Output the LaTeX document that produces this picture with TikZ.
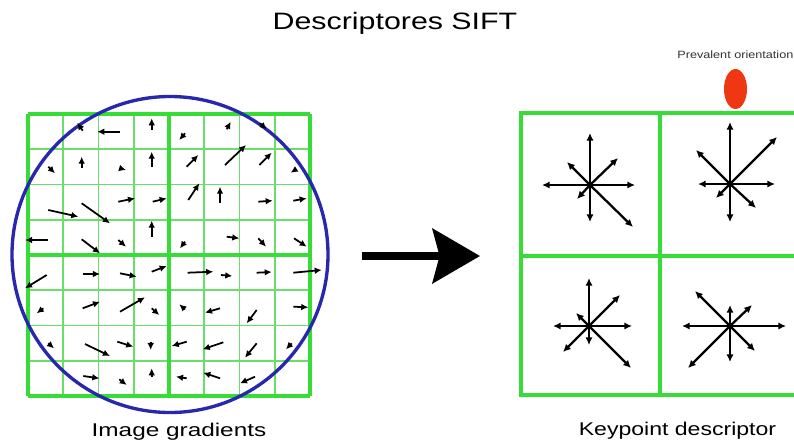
\documentclass[tikz,border=0pt]{standalone}
\usepackage{fontspec}
\setmainfont{Liberation Sans}
\usetikzlibrary{arrows.meta}
\definecolor{gridgreen}{RGB}{55,220,55}
\definecolor{thingreen}{RGB}{105,222,105}
\definecolor{circblue}{RGB}{40,40,175}
\definecolor{orired}{RGB}{240,55,20}
\tikzset{
  grad/.style={line width=1pt,-{Latex[length=4pt,width=3.8pt]}},
  binarrow/.style={line width=1.3pt,-{Latex[length=4.4pt,width=4.2pt]}},
  lbl/.style={inner sep=0pt}
}
\begin{document}
\begin{tikzpicture}[x=0.02cm,y=-0.02cm]
\clip (0,0) rectangle (794,447);
\fill[white] (0,0) rectangle (794,447);

% title
\node[lbl] (title) at (395,23) {\fontsize{13.5}{16}\selectfont\scalebox{1.28}[1]{Descriptores SIFT}};

% left grid
\foreach \i in {0,...,8} {
  \draw[thingreen,line width=1.1pt] (28+35.25*\i,114) -- (28+35.25*\i,396);
  \draw[thingreen,line width=1.1pt] (28,114+35.25*\i) -- (310,114+35.25*\i);
}
\foreach \i in {0,4,8} {
  \draw[gridgreen,line width=2.2pt] (28+35.25*\i,114) -- (28+35.25*\i,396);
  \draw[gridgreen,line width=2.2pt] (28,114+35.25*\i) -- (310,114+35.25*\i);
}
\draw[circblue,line width=1.9pt] (170,254.5) circle [radius=158];

% gradients
\foreach \xa/\ya/\xb/\yb in {
  82.7/130.7/77.3/122.7, 120/131.7/97.3/131.7, 151.7/130/151.7/118.3,
  185/133.3/179.3/140, 226.7/129.3/230.7/121.7, 260/123.3/266.7/129.3,
  48.3/166.7/55/173.3, 81.7/168.3/81.7/156.7, 120/168.3/126/170,
  151.7/166.7/151.7/151.7, 186.7/166.7/198.3/155, 225/165/246/145,
  259.3/165/271.7/152.7, 296/169.3/290.7/172.7,
  48.3/210/78.3/216.7, 81.7/203.3/110/223.3, 118.3/201.7/135/198.3,
  152.7/201.7/166.7/198.3, 188.3/200/199.3/183.3, 220/203.3/220/186.7,
  258.3/201.7/272.7/200.7, 293.3/200.7/306.7/198.3,
  48/240/25/240, 81.7/239.3/100/253.3, 118.3/240/126/246.7,
  151.7/236.7/151.7/220.7, 185/241.7/180/248.3, 226.7/236.7/239.3/238.3,
  258.3/238.3/266/246.7, 294/238.3/306.7/246.7,
  46.7/275/25/288.3, 82.7/274/100/274, 120/273.3/136.7/276.7,
  151.7/271.7/166.7/266, 187.7/272.7/213.3/271.7, 221/275/232.3/276,
  256.7/272.7/271.7/272, 293.3/272.7/321.7/270,
  43.3/308.3/36.7/313.3, 82.7/308.3/100/301.7, 120/311.7/145/297.3,
  151.7/308.3/159.3/315, 185/309.3/179.3/304.3, 220/308.3/205/312.7,
  256.7/310/246.7/323.3, 293.3/306.7/308.3/307.3,
  48.3/343.3/54/348.3, 85/344/110/356, 117.3/341.7/133.3/346.7,
  150.7/341.7/150.7/350, 186.7/341.7/171.7/346, 223.3/342.3/202.7/349.3,
  256.7/343.3/245/357.7, 291.7/343.3/286/349.3,
  83.3/376/99.3/378.3, 119.3/379.3/126.7/385, 151.7/376.7/151.7/368.3,
  186.7/378.3/176/376.7, 220/378.3/203.3/372.7, 255/376.7/240/383.3}
  \draw[grad] (\xa,\ya) -- (\xb,\yb);

\node[lbl] (lgrad) at (179,432) {\fontsize{10.5}{12}\selectfont\scalebox{1.32}[1]{Image gradients}};

% big arrow
\coordinate (from) at (362,256);
\coordinate (to) at (480,256);
\draw[line width=4pt,-{Stealth[length=27pt,width=31pt,inset=4pt]}] (from) -- (to);

% right panel
\draw[gridgreen,line width=1.8pt] (521,113) rectangle (802,395);
\draw[gridgreen,line width=1.8pt] (660,113) -- (660,395);
\draw[gridgreen,line width=1.8pt] (521,256) -- (802,256);

\coordinate (s1) at (590,185);
\coordinate (s2) at (730,184);
\coordinate (s3) at (589,326);
\coordinate (s4) at (730,326);
\foreach \dx/\dy in {0/-52,0/37,-48/0,45/0,-23/-23,28/-27,-13/14,43/42}
  \draw[binarrow] (s1) -- ++(\dx,\dy);
\foreach \dx/\dy in {0/-62,0/38,-32/0,45/0,-34/-34,47/-47,-14/14,26/24}
  \draw[binarrow] (s2) -- ++(\dx,\dy);
\foreach \dx/\dy in {0/-48,0/19,-36/0,43/0,-13/-13,31/-31,-26/26,42/42}
  \draw[binarrow] (s3) -- ++(\dx,\dy);
\foreach \dx/\dy in {0/-21,0/36,-48/0,56/0,-35/-35,22/-21,-42/42,25/25}
  \draw[binarrow] (s4) -- ++(\dx,\dy);
\foreach \s in {s1,s2,s3,s4}
  \fill (\s) circle [radius=2.5];

% prevalent orientation
\fill[orired] (735.5,89) ellipse [x radius=11.5, y radius=20];
\node[lbl,anchor=west,text=black!80] (prev) at (677,55) {\fontsize{6}{7}\selectfont\scalebox{1.2}[1]{Prevalent orientation}};

\node[lbl] (kdesc) at (677.5,431) {\fontsize{10.5}{12}\selectfont\scalebox{1.25}[1]{Keypoint descriptor}};
\end{tikzpicture}
\end{document}
